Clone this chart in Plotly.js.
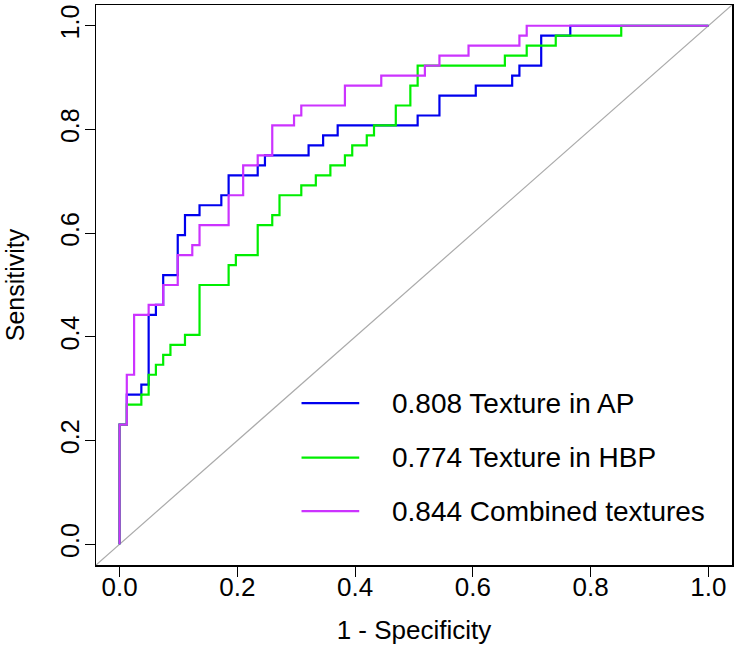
<!DOCTYPE html>
<html>
<head>
<meta charset="utf-8">
<script src="https://cdn.plot.ly/plotly-3.0.1.min.js"></script>
<style>html,body{margin:0;padding:0;background:#fff;}#chart{width:735px;height:649px;}</style>
</head>
<body>
<div id="chart"></div>
<script>
// ROC corner points (1 - specificity, sensitivity)
const apFpr  = [0, 0.0123, 0.037, 0.0494, 0.0617, 0.0741, 0.0988, 0.1111, 0.1358, 0.1728, 0.1852, 0.2346, 0.2469, 0.321, 0.3457, 0.3704, 0.5062, 0.5432, 0.6049, 0.6667, 0.679, 0.716, 0.7654, 1];
const apTpr  = [0, 0.2308, 0.2885, 0.3077, 0.4423, 0.4615, 0.5192, 0.5962, 0.6346, 0.6538, 0.6731, 0.7115, 0.7308, 0.75, 0.7692, 0.7885, 0.8077, 0.8269, 0.8654, 0.8846, 0.9038, 0.9231, 0.9808, 1];

const hbpFpr = [0, 0.0123, 0.037, 0.0494, 0.0617, 0.0741, 0.0864, 0.1111, 0.1358, 0.1852, 0.1975, 0.2346, 0.2593, 0.2716, 0.3086, 0.3333, 0.358, 0.3827, 0.3951, 0.4198, 0.4321, 0.4691, 0.4938, 0.5062, 0.6543, 0.6914, 0.7407, 0.8519, 1];
const hbpTpr = [0, 0.2308, 0.2692, 0.2885, 0.3269, 0.3462, 0.3654, 0.3846, 0.4038, 0.5, 0.5385, 0.5577, 0.6154, 0.6346, 0.6731, 0.6923, 0.7115, 0.7308, 0.75, 0.7692, 0.7885, 0.8077, 0.8462, 0.8846, 0.9231, 0.9423, 0.9615, 0.9808, 1];

const comFpr = [0, 0.0123, 0.0247, 0.0494, 0.0741, 0.0988, 0.1235, 0.1358, 0.1852, 0.2099, 0.2346, 0.2593, 0.2963, 0.3086, 0.3827, 0.4444, 0.5185, 0.5432, 0.5926, 0.679, 0.6914, 1];
const comTpr = [0, 0.2308, 0.3269, 0.4423, 0.4615, 0.5, 0.5577, 0.5769, 0.6154, 0.6731, 0.7308, 0.75, 0.8077, 0.8269, 0.8462, 0.8846, 0.9038, 0.9231, 0.9423, 0.9615, 0.9808, 1];

const seriesNames = ["0.808 Texture in AP", "0.774 Texture in HBP", "0.844 Combined textures"];
const seriesColors = ["#0000ee", "#00ee00", "#cc33ff"];
const tickVals = [0, 0.2, 0.4, 0.6, 0.8, 1.0];
const tickText = ["0.0", "0.2", "0.4", "0.6", "0.8", "1.0"];

const FONT = "Liberation Sans, Arial, Helvetica, sans-serif";

const xs = [apFpr, hbpFpr, comFpr];
const ys = [apTpr, hbpTpr, comTpr];
const traces = xs.map((x, k) => ({
  x: x, y: ys[k], type: "scatter", mode: "lines",
  line: {color: seriesColors[k], width: 2.2, shape: "vh"},
  name: seriesNames[k], showlegend: false, hoverinfo: "skip"
}));

// legend (drawn manually to mimic R's legend)
const legY = [0.272, 0.167, 0.064];
const shapes = [
  {type: "line", xref: "x", yref: "y", x0: -0.04, y0: -0.04, x1: 1.04, y1: 1.04,
   line: {color: "#aaaaaa", width: 1.2}, layer: "below"}
];
const annotations = [];
legY.forEach((y, k) => {
  shapes.push({type: "line", xref: "x", yref: "y", x0: 0.309, x1: 0.407, y0: y, y1: y,
    line: {color: seriesColors[k], width: 2.2}});
  annotations.push({xref: "x", yref: "y", x: 0.46, y: y, xanchor: "left", yanchor: "middle",
    text: seriesNames[k], showarrow: false, font: {family: FONT, size: 28, color: "#000"}});
});

const axisCommon = {
  range: [-0.04, 1.04], autorange: false, showgrid: false, zeroline: false,
  showline: true, mirror: true, linecolor: "#000", linewidth: 1.5,
  ticks: "outside", ticklen: 10, tickwidth: 1.2, tickcolor: "#000",
  tickvals: tickVals, ticktext: tickText
};

const layout = {
  width: 735, height: 649,
  margin: {l: 96, r: 3, t: 5, b: 84},
  paper_bgcolor: "#fff", plot_bgcolor: "#fff",
  showlegend: false,
  xaxis: Object.assign({}, axisCommon, {
    tickfont: {family: FONT, size: 26, color: "#000"},
    ticklabelstandoff: -12,
    title: {text: "1 - Specificity", font: {family: FONT, size: 26, color: "#000"}, standoff: 20}
  }),
  yaxis: Object.assign({}, axisCommon, {
    tickangle: -90,
    tickfont: {family: FONT, size: 25, color: "#000"},
    ticklabelstandoff: -4,
    title: {text: "Sensitivity", font: {family: FONT, size: 25, color: "#000"}, standoff: 24}
  }),
  shapes: shapes,
  annotations: annotations
};

Plotly.newPlot("chart", traces, layout, {displayModeBar: false, staticPlot: true});
</script>
</body>
</html>
